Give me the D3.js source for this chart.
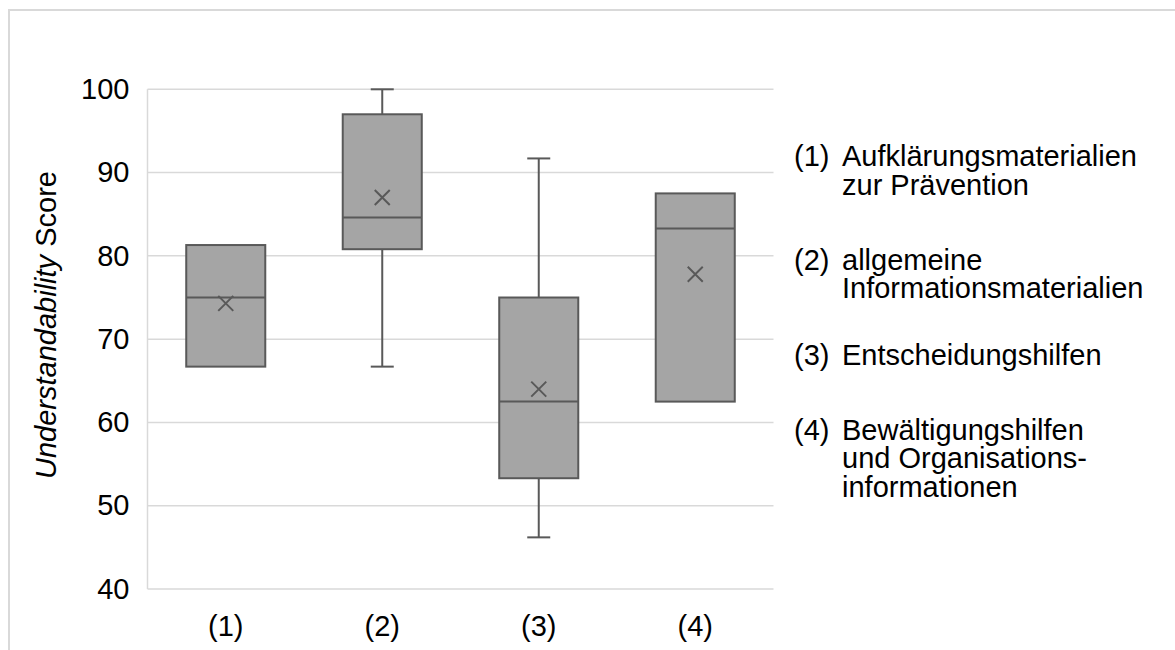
<!DOCTYPE html>
<html>
<head>
<meta charset="utf-8">
<script src="https://cdn.jsdelivr.net/npm/d3@7"></script>
<style>
  html, body { margin: 0; padding: 0; background: #fff; }
  svg { display: block; }
  text { font-family: "Liberation Sans", Arial, sans-serif; fill: #000; }
</style>
</head>
<body>
<svg id="chart" width="1175" height="650"></svg>
<script>
// ---- data ----
const categories   = ["(1)", "(2)", "(3)", "(4)"];
const whiskerLow   = [66.7, 66.7, 46.2, 62.5];
const q1           = [66.7, 80.8, 53.3, 62.5];
const median       = [75.0, 84.6, 62.5, 83.3];
const q3           = [81.3, 97.0, 75.0, 87.5];
const whiskerHigh  = [81.3, 100.0, 91.7, 87.5];
const mean         = [74.3, 87.0, 64.0, 77.8];
const yTicks       = [40, 50, 60, 70, 80, 90, 100];
const legendNums   = ["(1)", "(2)", "(3)", "(4)"];
const legendLines  = [
  ["Aufklärungsmaterialien", "zur Prävention"],
  ["allgemeine", "Informationsmaterialien"],
  ["Entscheidungshilfen"],
  ["Bewältigungshilfen", "und Organisations-", "informationen"]
];

// ---- layout ----
const svg = d3.select("#chart");
const plot = { left: 147.5, right: 773.5, top: 89.3, bottom: 589 };
const fontSize = 29;
const boxStroke = "#595959";
const boxFill = "#a5a5a5";
const gridColor = "#d9d9d9";

// outer frame
svg.append("rect")
  .attr("x", 9).attr("y", 10)
  .attr("width", 1300).attr("height", 800)
  .attr("fill", "none").attr("stroke", gridColor).attr("stroke-width", 2);

const x = d3.scaleBand().domain(categories).range([plot.left, plot.right]).padding(0);
const y = d3.scaleLinear().domain([40, 100]).range([plot.bottom, plot.top]);

// gridlines
svg.append("g").selectAll("line").data(yTicks).join("line")
  .attr("x1", plot.left).attr("x2", plot.right)
  .attr("y1", d => y(d)).attr("y2", d => y(d))
  .attr("stroke", gridColor).attr("stroke-width", 1.5);
// vertical axis line
svg.append("line")
  .attr("x1", plot.left).attr("x2", plot.left)
  .attr("y1", y(100)).attr("y2", y(40))
  .attr("stroke", gridColor).attr("stroke-width", 1.5);

// y axis tick labels via d3 axis
const yAxis = d3.axisLeft(y).tickValues(yTicks).tickSize(0).tickPadding(18);
const gy = svg.append("g").attr("transform", `translate(${plot.left},0)`).call(yAxis);
gy.select(".domain").remove();
gy.selectAll("text")
  .style("font-family", '"Liberation Sans", Arial, sans-serif')
  .style("font-size", fontSize + "px").attr("fill", "#000");

// x axis labels via d3 axis
const xAxis = d3.axisBottom(x).tickSize(0).tickPadding(0);
const gx = svg.append("g").attr("transform", `translate(0,${plot.bottom})`).call(xAxis);
gx.select(".domain").remove();
gx.selectAll("text")
  .style("font-family", '"Liberation Sans", Arial, sans-serif')
  .style("font-size", fontSize + "px").attr("fill", "#000")
  .attr("dy", null).attr("y", 47);

// y axis title
const title = svg.append("text")
  .attr("transform", `translate(56,325) rotate(-90)`)
  .attr("text-anchor", "middle")
  .style("font-size", fontSize + "px");
title.append("tspan").style("font-style", "italic").text("Understandability");
title.append("tspan").text(" Score");

// boxes
const rows = categories.map((c, i) => ({
  c, lo: whiskerLow[i], q1: q1[i], med: median[i], q3: q3[i], hi: whiskerHigh[i], mean: mean[i]
}));
const bw = x.bandwidth() * 0.505;
const capW = 23;
const g = svg.append("g");
rows.forEach(d => {
  const cx = x(d.c) + x.bandwidth() / 2;
  const gg = g.append("g");
  // whiskers
  if (d.hi > d.q3) {
    gg.append("line").attr("x1", cx).attr("x2", cx).attr("y1", y(d.q3)).attr("y2", y(d.hi))
      .attr("stroke", boxStroke).attr("stroke-width", 2);
    gg.append("line").attr("x1", cx - capW / 2).attr("x2", cx + capW / 2).attr("y1", y(d.hi)).attr("y2", y(d.hi))
      .attr("stroke", boxStroke).attr("stroke-width", 2);
  }
  if (d.lo < d.q1) {
    gg.append("line").attr("x1", cx).attr("x2", cx).attr("y1", y(d.q1)).attr("y2", y(d.lo))
      .attr("stroke", boxStroke).attr("stroke-width", 2);
    gg.append("line").attr("x1", cx - capW / 2).attr("x2", cx + capW / 2).attr("y1", y(d.lo)).attr("y2", y(d.lo))
      .attr("stroke", boxStroke).attr("stroke-width", 2);
  }
  // box
  gg.append("rect")
    .attr("x", cx - bw / 2).attr("width", bw)
    .attr("y", y(d.q3)).attr("height", y(d.q1) - y(d.q3))
    .attr("fill", boxFill).attr("stroke", boxStroke).attr("stroke-width", 2);
  // median
  gg.append("line").attr("x1", cx - bw / 2).attr("x2", cx + bw / 2)
    .attr("y1", y(d.med)).attr("y2", y(d.med))
    .attr("stroke", boxStroke).attr("stroke-width", 2);
  // mean marker
  const s = 7.5, my = y(d.mean);
  gg.append("path")
    .attr("d", `M${cx - s},${my - s}L${cx + s},${my + s}M${cx - s},${my + s}L${cx + s},${my - s}`)
    .attr("stroke", boxStroke).attr("stroke-width", 2).attr("fill", "none");
});

// legend
const legendFirstBaseline = [166, 269.5, 365, 439.5];
const lineStep = 28.5;
const lg = svg.append("g").style("font-size", fontSize + "px");
legendNums.forEach((n, i) => {
  lg.append("text").attr("x", 794).attr("y", legendFirstBaseline[i]).text(n);
  legendLines[i].forEach((t, j) => {
    lg.append("text").attr("x", 842).attr("y", legendFirstBaseline[i] + j * lineStep).text(t);
  });
});
</script>
</body>
</html>
